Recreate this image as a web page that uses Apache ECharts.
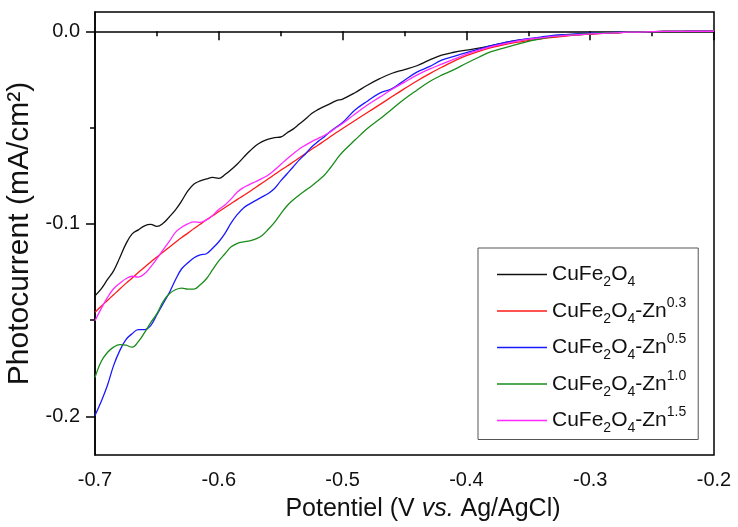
<!DOCTYPE html>
<html>
<head>
<meta charset="utf-8">
<script src="https://cdn.jsdelivr.net/npm/echarts@6.0.0/dist/echarts.min.js"></script>
<style>
    body { margin: 0; background: #fff; }
    #main { width: 738px; height: 527px; }
</style>
</head>
<body>
<div id="main"></div>
<script>
    // 电位 (V vs. Ag/AgCl)
    var potential = [-0.7, -0.695, -0.69, -0.685, -0.68, -0.675, -0.67, -0.665, -0.66, -0.655,
        -0.65, -0.645, -0.64, -0.635, -0.63, -0.625, -0.62, -0.615, -0.61, -0.605,
        -0.6, -0.595, -0.59, -0.585, -0.58, -0.575, -0.57, -0.565, -0.56, -0.555,
        -0.55, -0.545, -0.54, -0.535, -0.53, -0.525, -0.52, -0.515, -0.51, -0.505,
        -0.5, -0.49, -0.48, -0.47, -0.46, -0.45, -0.44, -0.43, -0.42, -0.41,
        -0.4, -0.39, -0.38, -0.37, -0.36, -0.35, -0.34, -0.33, -0.32, -0.31,
        -0.3, -0.29, -0.28, -0.27, -0.26, -0.25, -0.24, -0.23, -0.22, -0.21, -0.2];

    var cuFe = [-0.1373, -0.1337, -0.1290, -0.1244, -0.1176, -0.1104, -0.1052, -0.1031, -0.1010, -0.1003,
        -0.1013, -0.0997, -0.0964, -0.0927, -0.0881, -0.0829, -0.0793, -0.0777, -0.0767, -0.0759,
        -0.0764, -0.0744, -0.0718, -0.0689, -0.0655, -0.0622, -0.0593, -0.0573, -0.0560, -0.0552,
        -0.0549, -0.0528, -0.0508, -0.0482, -0.0456, -0.0427, -0.0407, -0.0391, -0.0376, -0.0360,
        -0.0352, -0.0319, -0.0280, -0.0246, -0.0218, -0.0199, -0.0179, -0.0150, -0.0124, -0.0109,
        -0.0098, -0.0088, -0.0075, -0.0060, -0.0049, -0.0041, -0.0034, -0.0028, -0.0023, -0.0018,
        -0.0014, -0.0010, -0.0008, -0.0005, -0.0004, -0.0002, -0.0001, -0.0001, 0, 0, 0];

    var zn03 = [-0.1459, -0.1428, -0.1398, -0.1368, -0.1338, -0.1309, -0.1281, -0.1253, -0.1225, -0.1198,
        -0.1172, -0.1146, -0.1121, -0.1096, -0.1071, -0.1048, -0.1024, -0.1002, -0.0979, -0.0958,
        -0.0936, -0.0915, -0.0894, -0.0873, -0.0853, -0.0832, -0.0810, -0.0788, -0.0766, -0.0744,
        -0.0722, -0.0701, -0.0679, -0.0657, -0.0635, -0.0613, -0.0592, -0.0570, -0.0548, -0.0526,
        -0.0505, -0.0463, -0.0422, -0.0381, -0.0339, -0.0298, -0.0258, -0.0221, -0.0187, -0.0155,
        -0.0127, -0.0104, -0.0085, -0.0070, -0.0058, -0.0048, -0.0039, -0.0031, -0.0025, -0.0019,
        -0.0015, -0.0011, -0.0008, -0.0005, -0.0004, -0.0002, -0.0001, -0.0001, 0, 0, 0];

    var zn05 = [-0.1995, -0.1922, -0.1839, -0.1736, -0.1658, -0.1601, -0.1570, -0.1549, -0.1549, -0.1528,
        -0.1472, -0.1415, -0.1358, -0.1290, -0.1233, -0.1202, -0.1176, -0.1161, -0.1155, -0.1127,
        -0.1093, -0.1049, -0.0995, -0.0951, -0.0917, -0.0896, -0.0878, -0.0860, -0.0842, -0.0816,
        -0.0777, -0.0741, -0.0705, -0.0668, -0.0637, -0.0601, -0.0573, -0.0549, -0.0521, -0.0497,
        -0.0474, -0.0409, -0.0363, -0.0321, -0.0298, -0.0254, -0.0212, -0.0184, -0.0150, -0.0130,
        -0.0111, -0.0093, -0.0075, -0.0060, -0.0047, -0.0038, -0.0030, -0.0022, -0.0017, -0.0013,
        -0.0010, -0.0008, -0.0006, -0.0004, -0.0003, -0.0002, -0.0001, -0.0001, 0, 0, 0];

    var zn10 = [-0.1798, -0.1715, -0.1668, -0.1640, -0.1627, -0.1630, -0.1640, -0.1611, -0.1565, -0.1513,
        -0.1466, -0.1404, -0.1363, -0.1342, -0.1334, -0.1339, -0.1339, -0.1316, -0.1285, -0.1238,
        -0.1192, -0.1155, -0.1119, -0.1101, -0.1093, -0.1088, -0.1078, -0.1060, -0.1028, -0.0992,
        -0.0948, -0.0907, -0.0876, -0.0850, -0.0826, -0.0803, -0.0777, -0.0749, -0.0710, -0.0666,
        -0.0627, -0.0565, -0.0505, -0.0456, -0.0404, -0.0352, -0.0306, -0.0262, -0.0228, -0.0199,
        -0.0166, -0.0135, -0.0106, -0.0088, -0.0070, -0.0052, -0.0039, -0.0028, -0.0021, -0.0016,
        -0.0012, -0.0009, -0.0007, -0.0005, -0.0003, -0.0002, -0.0001, -0.0001, 0, 0, 0];

    var zn15 = [-0.1503, -0.1440, -0.1383, -0.1337, -0.1308, -0.1285, -0.1272, -0.1277, -0.1259, -0.1223,
        -0.1181, -0.1135, -0.1091, -0.1044, -0.1018, -0.1000, -0.0990, -0.0992, -0.0979, -0.0956,
        -0.0925, -0.0902, -0.0870, -0.0834, -0.0811, -0.0795, -0.0780, -0.0764, -0.0746, -0.0720,
        -0.0692, -0.0663, -0.0637, -0.0611, -0.0591, -0.0573, -0.0557, -0.0541, -0.0523, -0.0500,
        -0.0479, -0.0430, -0.0383, -0.0342, -0.0301, -0.0264, -0.0228, -0.0197, -0.0171, -0.0145,
        -0.0119, -0.0098, -0.0080, -0.0065, -0.0052, -0.0041, -0.0034, -0.0027, -0.0022, -0.0018,
        -0.0014, -0.0011, -0.0008, -0.0005, -0.0004, -0.0002, -0.0001, -0.0001, 0, 0, 0];

    var seriesNames = ['CuFe2O4', 'CuFe2O4-Zn0.3', 'CuFe2O4-Zn0.5', 'CuFe2O4-Zn1.0', 'CuFe2O4-Zn1.5'];
    var seriesColors = ['#111111', '#ff1a1a', '#1a1aff', '#1a8c1a', '#ff2aff'];
    var seriesData = [cuFe, zn03, zn05, zn10, zn15];

    var yMajor = [0, -0.1, -0.2];
    var yAllTicks = [0, -0.05, -0.1, -0.15, -0.2];

    var font = 'Liberation Sans, Arial, sans-serif';

    function pairs(arr) {
        return potential.map(function (v, i) { return [v, arr[i]]; });
    }

    // 图例: 下标 / 上标
    function legendLabel(name) {
        var zn = name.split('-Zn')[1];
        var s = '{n|CuFe}{b|2}{n|O}{b|4}';
        if (zn) {
            s += '{n|-Zn}{t|' + zn + '}';
        }
        return s;
    }

    var myChart = echarts.init(document.getElementById('main'));

    var series = seriesNames.map(function (name, i) {
        return {
            name: name,
            type: 'line',
            symbol: 'none',
            smooth: 0.4,
            data: pairs(seriesData[i]),
            lineStyle: { color: seriesColors[i], width: 1.3 },
            itemStyle: { color: seriesColors[i] }
        };
    });

    var option = {
        animation: false,
        backgroundColor: '#fff',
        grid: {
            left: 95, right: 24, top: 12, bottom: 72,
            containLabel: false,
            outerBoundsMode: 'none',
            show: true,
            borderColor: '#000',
            borderWidth: 1.5
        },
        legend: {
            orient: 'vertical',
            left: 478,
            top: 248,
            padding: [16, 12, 4, 19],
            itemGap: 6.5,
            itemWidth: 50,
            itemHeight: 1.4,
            icon: 'rect',
            backgroundColor: '#fff',
            borderColor: '#555',
            borderWidth: 1,
            borderRadius: 0,
            formatter: legendLabel,
            textStyle: {
                fontFamily: font,
                color: '#111',
                rich: {
                    n: { fontSize: 21, fontFamily: font, color: '#111', lineHeight: 30 },
                    b: { fontSize: 14, fontFamily: font, color: '#111', lineHeight: 14, verticalAlign: 'bottom' },
                    t: { fontSize: 14, fontFamily: font, color: '#111', lineHeight: 20, verticalAlign: 'top' }
                }
            },
            data: seriesNames
        },
        xAxis: {
            type: 'value',
            min: -0.7,
            max: -0.2,
            interval: 0.1,
            name: 'Potentiel (V {i|vs.} Ag/AgCl)',
            nameLocation: 'middle',
            nameGap: 42,
            nameTextStyle: {
                fontFamily: font,
                fontSize: 25,
                color: '#111',
                padding: [0, 0, 0, 37],
                rich: {
                    i: { fontFamily: font, fontSize: 25, fontStyle: 'italic', color: '#111' }
                }
            },
            axisLine: { lineStyle: { color: '#000', width: 1.5 } },
            axisTick: { inside: false, length: 9, lineStyle: { color: '#000', width: 1.5 } },
            minorTick: { show: true, splitNumber: 2, length: 5, lineStyle: { color: '#000', width: 1.5 } },
            splitLine: { show: false },
            axisLabel: {
                margin: 15,
                fontFamily: font,
                fontSize: 20,
                color: '#111',
                formatter: function (v) { return v.toFixed(1); }
            }
        },
        yAxis: [{
            type: 'value',
            min: -0.22,
            max: 0.01,
            position: 'left',
            name: 'Photocurrent (mA/cm\u00b2)',
            nameLocation: 'middle',
            nameGap: 46,
            nameTextStyle: { fontFamily: font, fontSize: 30, color: '#111' },
            axisLine: { show: true, lineStyle: { color: '#000', width: 1.5 } },
            axisTick: { show: true, inside: false, length: 9, customValues: yMajor, lineStyle: { color: '#000', width: 1.5 } },
            splitLine: { show: false },
            axisLabel: {
                margin: 15,
                fontFamily: font,
                fontSize: 20,
                color: '#111',
                customValues: yMajor,
                formatter: function (v) { return v.toFixed(1); }
            }
        }, {
            type: 'value',
            min: -0.22,
            max: 0.01,
            position: 'left',
            axisLine: { show: false },
            axisTick: { show: true, inside: false, length: 5, customValues: yAllTicks, lineStyle: { color: '#000', width: 1.5 } },
            axisLabel: { show: false },
            splitLine: { show: false }
        }],
        series: series
    };

    myChart.setOption(option);
</script>
</body>
</html>
